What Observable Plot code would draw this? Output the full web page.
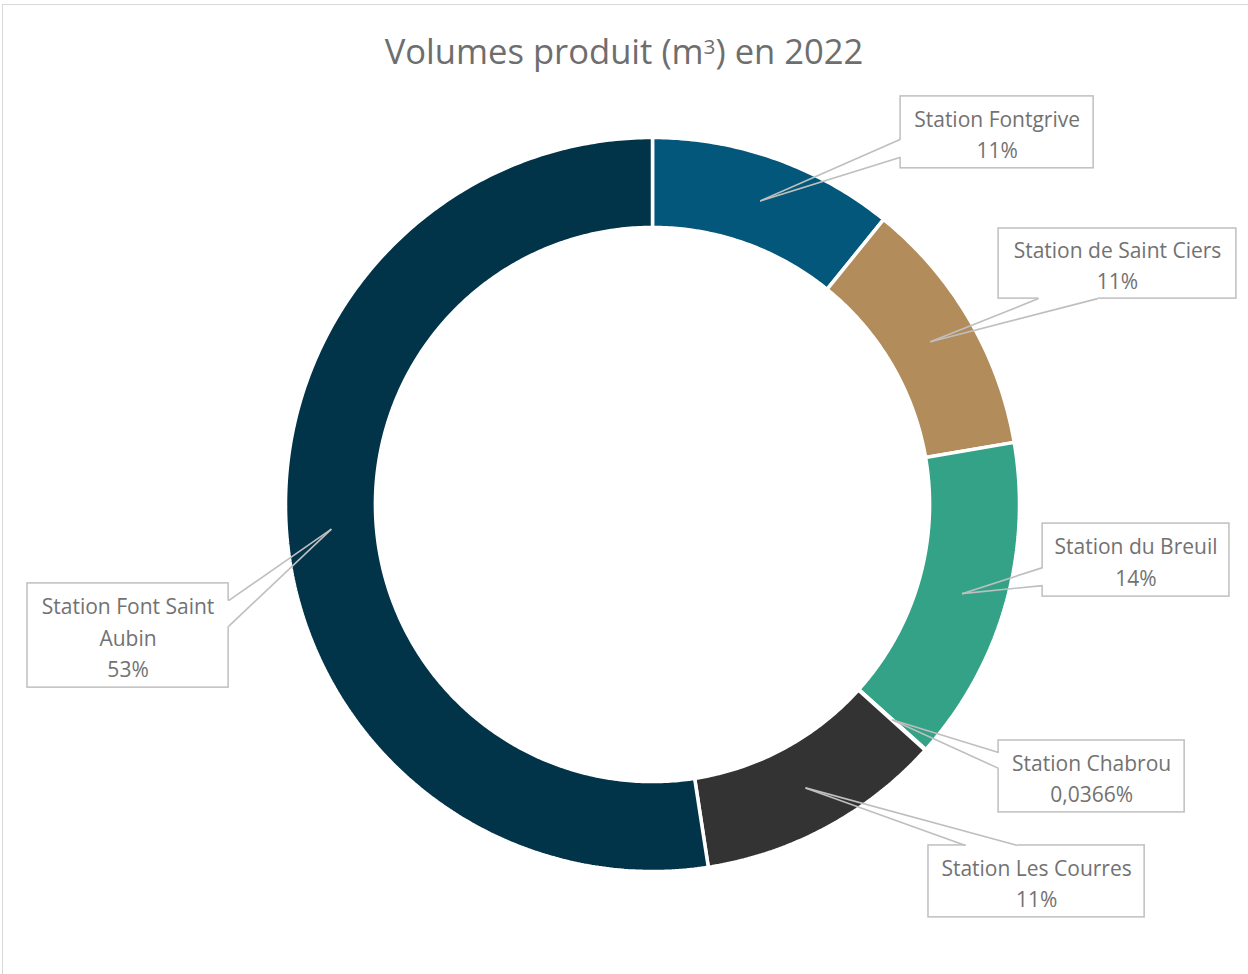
<!DOCTYPE html>
<html>
<head>
<meta charset="utf-8">
<script src="https://cdn.jsdelivr.net/npm/d3@7"></script>
<script src="https://cdn.jsdelivr.net/npm/@observablehq/plot@0.6"></script>
<style>
  html, body { margin: 0; padding: 0; background: #fff; overflow: hidden; }
  #wrap { position: relative; width: 1248px; height: 974px; }
  #frame { position: absolute; left: 2px; top: 4px; width: 1300px; height: 1100px; border: 1.5px solid #d9d9d9; box-sizing: border-box; }
  #title { position: relative; height: 90px; box-sizing: border-box; padding-top: 29px; text-align: center;
           font-family: "Open Sans", sans-serif; font-size: 34.6px; color: #6e6e6e; line-height: 44px; }
  #title sup { font-size: 0.6em; vertical-align: 0.5em; line-height: 0; }
  #chart svg { display: block; }
</style>
</head>
<body>
<div id="wrap">
  <div id="frame"></div>
  <div id="title">Volumes produit (m<sup>3</sup>) en 2022</div>
  <div id="chart"></div>
</div>
<script>
// ---- data ----
const stations = ["Station Fontgrive", "Station de Saint Ciers", "Station du Breuil", "Station Chabrou", "Station Les Courres", "Station Font Saint Aubin"];
const shares = [10.85, 11.45, 14.35, 0.0366, 10.9, 52.45];
const shareLabels = ["11%", "11%", "14%", "0,0366%", "11%", "53%"];
const sliceColors = ["#03577A", "#B28C5B", "#33A286", "#3FA58C", "#333333", "#023449"];

// ---- layout of the callouts (unit = outer radius, centre of ring = 0,0) ----
const callouts = [
  {box: [0.676, 1.202, 1.112, 0.916], side: "left",   base: [0.995, 0.946]},
  {box: [0.943, 1.591, 0.752, 0.561], side: "bottom", base: [1.052, 1.213]},
  {box: [1.063, 1.572, -0.052, -0.251], side: "left", base: [-0.172, -0.221]},
  {box: [0.943, 1.450, -0.643, -0.839], side: "left", base: [-0.676, -0.719]},
  {box: [0.752, 1.341, -0.929, -1.125], side: "top",  base: [0.853, 0.995]},
  {box: [-1.703, -1.155, -0.215, -0.499], side: "right", base: [-0.262, -0.332], breakAfter: 3}
];
const innerRatio = 0.755;

// ---- geometry derived from the data ----
const arcs = d3.pie().sort(null).value(d => d)(shares);
const slicePts = [];
arcs.forEach((a, i) => {
  const n = Math.max(2, Math.ceil((a.endAngle - a.startAngle) / 0.01));
  const outer = d3.range(n + 1).map(k => a.startAngle + (a.endAngle - a.startAngle) * k / n);
  for (const t of outer) slicePts.push({name: stations[i], color: sliceColors[i], x: Math.sin(t), y: Math.cos(t)});
  for (const t of outer.slice().reverse()) slicePts.push({name: stations[i], color: sliceColors[i], x: innerRatio * Math.sin(t), y: innerRatio * Math.cos(t)});
});

const midR = (1 + innerRatio) / 2;
const labelRows = arcs.map((a, i) => {
  const mid = (a.startAngle + a.endAngle) / 2;
  const L = callouts[i];
  const [u1, u2, vt, vb] = L.box;
  let b1, b2;
  if (L.side === "left")   { b1 = [u1, L.base[0]]; b2 = [u1, L.base[1]]; }
  if (L.side === "right")  { b1 = [u2, L.base[0]]; b2 = [u2, L.base[1]]; }
  if (L.side === "top")    { b1 = [L.base[0], vt]; b2 = [L.base[1], vt]; }
  if (L.side === "bottom") { b1 = [L.base[0], vb]; b2 = [L.base[1], vb]; }
  let name = stations[i];
  if (L.breakAfter) {
    const w = name.split(" ");
    name = w.slice(0, L.breakAfter).join(" ") + "\n" + w.slice(L.breakAfter).join(" ");
  }
  return {
    tipX: midR * Math.sin(mid), tipY: midR * Math.cos(mid),
    x1: u1, x2: u2, y1: vb, y2: vt,
    cx: (u1 + u2) / 2, cy: (vt + vb) / 2,
    b1x: b1[0], b1y: b1[1], b2x: b2[0], b2y: b2[1],
    text: name + "\n" + shareLabels[i]
  };
});

const R = 367, cx = 652, cy = 504 - 90;
const grey = "#bfbfbf";
const chart = Plot.plot({
  width: 1248,
  height: 884,
  margin: 0,
  x: {domain: [-1, 1], range: [cx - R, cx + R], axis: null},
  y: {domain: [-1, 1], range: [cy + R, cy - R], axis: null},
  color: {type: "identity"},
  style: {fontFamily: "'Open Sans', sans-serif", background: "white"},
  marks: [
    Plot.line(slicePts, {x: "x", y: "y", z: "name", fill: "color", stroke: "white", strokeWidth: 3.5, strokeLinejoin: "miter", curve: "linear-closed"}),
    Plot.rect(labelRows, {x1: "x1", x2: "x2", y1: "y1", y2: "y2", fill: "white", stroke: grey, strokeWidth: 1.5}),
    Plot.link(labelRows, {x1: "b1x", y1: "b1y", x2: "b2x", y2: "b2y", stroke: "white", strokeWidth: 3.5}),
    Plot.link(labelRows, {x1: "b1x", y1: "b1y", x2: "tipX", y2: "tipY", stroke: grey, strokeWidth: 1.6}),
    Plot.link(labelRows, {x1: "b2x", y1: "b2y", x2: "tipX", y2: "tipY", stroke: grey, strokeWidth: 1.6}),
    Plot.text(labelRows, {x: "cx", y: "cy", text: "text", fontSize: 21, lineHeight: 1.5, fill: "#727272", lineAnchor: "middle", textAnchor: "middle"})
  ]
});
document.getElementById("chart").appendChild(chart);
</script>
</body>
</html>
